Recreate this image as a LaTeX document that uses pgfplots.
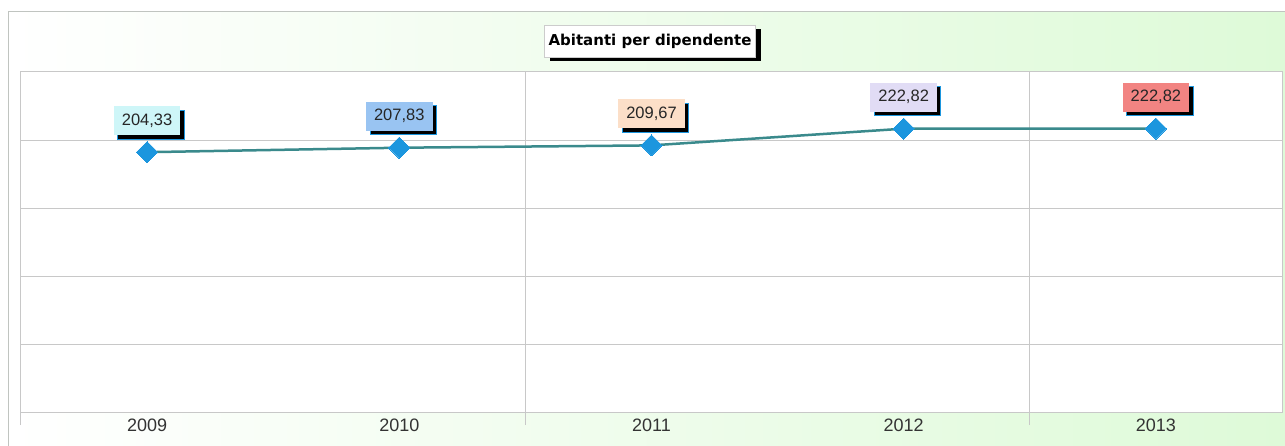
\documentclass[border=0pt]{standalone}
\usepackage{pgfplots}
\pgfplotsset{compat=1.18}
\usepackage{fontspec}
\setmainfont{Liberation Sans}
\newfontfamily\titlefont{DejaVu Sans}
\usetikzlibrary{shadows}
\definecolor{bggreen}{RGB}{222,250,216}
\definecolor{framecol}{RGB}{192,196,192}
\definecolor{gridcol}{RGB}{200,200,200}
\definecolor{linecol}{RGB}{58,138,140}
\definecolor{markcol}{RGB}{28,150,222}
\definecolor{lbl0}{RGB}{206,246,248}
\definecolor{lbl1}{RGB}{153,196,242}
\definecolor{lbl2}{RGB}{252,223,200}
\definecolor{lbl3}{RGB}{225,220,245}
\definecolor{lbl4}{RGB}{242,132,130}
\pgfplotstableread{
x y label
0 204.33 204,33
1 207.83 207,83
2 209.67 209,67
3 222.82 222,82
4 222.82 222,82
}\datatable
\begin{document}
\begin{tikzpicture}[x=1pt,y=1pt]
\useasboundingbox (0,0) rectangle (1285,445);
\shade[left color=white, right color=bggreen] (8,0) rectangle (1285,433);
\draw[draw=framecol, line width=1pt] (8,-5) -- (8,433) -- (1290,433);
\begin{axis}[
  at={(21pt,33pt)}, anchor=south west, scale only axis,
  width=1261pt, height=340pt,
  xmin=-0.5, xmax=4.5, ymin=0, ymax=267.384,
  xtick={0,1,2,3,4}, xticklabels={2009,2010,2011,2012,2013},
  minor xtick={-0.5,1.5,3.5},
  ytick={0,53.4768,106.9536,160.4304,213.9072,267.384}, yticklabels={},
  ymajorgrids, xminorgrids,
  grid style={draw=gridcol, line width=1pt},
  minor grid style={draw=gridcol, line width=1pt},
  major tick length=0pt, minor tick length=13pt, tick align=outside,
  xtick pos=bottom, ytick pos=left,
  minor tick style={draw=gridcol, line width=1pt},
  axis line style={draw=gridcol, line width=1pt},
  axis background/.style={fill=white},
  xticklabel style={font=\fontsize{18}{21}\selectfont, yshift=-3pt, text=black!80},
  clip=false,
]
\addplot[color=linecol, line width=2.5pt, mark=square*, mark size=7.5pt,
  mark options={rotate=45, fill=markcol, draw=markcol, line width=0pt},
  point meta=explicit symbolic, nodes near coords,
  visualization depends on={value \coordindex \as \idx},
  every node near coord/.append style={anchor=south, yshift=17pt, fill=lbl\idx,
    minimum height=29pt, inner xsep=8pt, text=black!85,
    font=\fontsize{16.5}{19}\selectfont,
    drop shadow={shadow xshift=4pt, shadow yshift=-4pt, fill=black, opacity=1}},
] table[x=x, y=y, meta=label] {\datatable};
\end{axis}
\node[fill=white, draw=gray!40, minimum width=211pt, minimum height=32pt, inner sep=0pt,
  font=\titlefont\bfseries\fontsize{15}{18}\selectfont,
  drop shadow={shadow xshift=5pt, shadow yshift=-4pt, fill=black, opacity=1}]
  at (650,404) {Abitanti per dipendente};
\end{tikzpicture}
\end{document}
